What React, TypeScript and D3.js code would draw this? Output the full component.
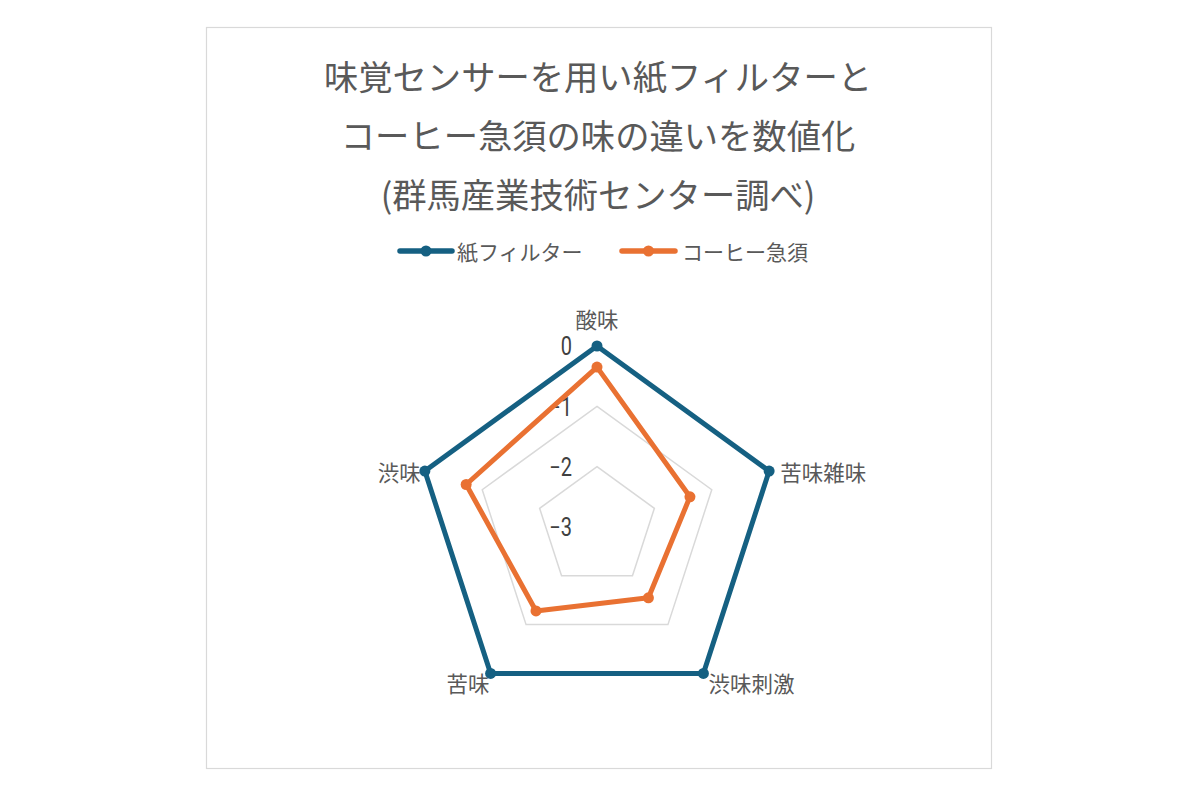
import React from "react";
import * as d3 from "d3";

const titleLines = ["味覚センサーを用い紙フィルターと", "コーヒー急須の味の違いを数値化", "(群馬産業技術センター調べ)"];
const categories = ["酸味", "苦味雑味", "渋味刺激", "苦味", "渋味"];
const seriesNames = ["紙フィルター", "コーヒー急須"];
const paperFilter = [0, 0, 0, 0, 0];
const coffeePot = [-0.35, -1.38, -1.55, -1.28, -0.72];
const tickValues = [-3, -2, -1, 0];
const colors = ["#156082", "#E97132"];

const W = 1200;
const H = 800;
const cx = 597;
const cy = 527;
const R = 181;

export default function App() {
  const r = d3.scaleLinear().domain([-3, 0]).range([0, R]);
  const angle = d3
    .scaleLinear()
    .domain([0, categories.length])
    .range([0, 2 * Math.PI]);
  const series = [paperFilter, coffeePot];

  const radial = d3
    .lineRadial<number>()
    .angle((_, i) => angle(i))
    .radius((v) => r(v))
    .curve(d3.curveLinearClosed);

  const gridLevels = tickValues.filter((t) => t > -3);
  const pt = (i: number, v: number) => {
    const a = angle(i);
    return [Math.sin(a) * r(v), -Math.cos(a) * r(v)];
  };

  const fmt = d3.format("d");
  const cjk = "'Noto Sans CJK JP', 'Noto Sans', sans-serif";
  const textColor = "#595959";

  const labelPos = (i: number) => {
    const a = angle(i);
    const [x, y] = pt(i, 0);
    const s = Math.sin(a);
    let anchor = "middle";
    let dx = 0;
    let dy = 0;
    if (s > 0.5) {
      anchor = "start";
      dx = 11;
    } else if (s < -0.5) {
      anchor = "end";
      dx = -4;
    }
    if (Math.abs(s) < 0.1) dy = -28;
    if (Math.cos(a) < -0.5) {
      dy = 9;
      if (s > 0) dx = 5;
      else dx = -1;
    }
    return { x: x + dx, y: y + dy, anchor };
  };

  const legendItems = [
    { x0: 400, x1: 452, tx: 457 },
    { x0: 622, x1: 675, tx: 682 },
  ];

  return (
    <div style={{ position: "fixed", left: 0, top: 0 }}>
      <svg width={W} height={H} style={{ display: "block", background: "#fff" }}>
        <rect x={206.5} y={27.5} width={785} height={741} fill="#fff" stroke="#d9d9d9" strokeWidth={1.2} />
        {titleLines.map((t, i) => (
          <text
            key={i}
            x={598}
            y={75 + i * 59}
            textAnchor="middle"
            dominantBaseline="central"
            fontFamily={cjk}
            fontSize={34.3}
            fill={textColor}
          >
            {t}
          </text>
        ))}
        {seriesNames.map((n, i) => (
          <g key={n}>
            <line
              x1={legendItems[i].x0}
              x2={legendItems[i].x1}
              y1={251}
              y2={251}
              stroke={colors[i]}
              strokeWidth={5.5}
              strokeLinecap="round"
            />
            <circle cx={(legendItems[i].x0 + legendItems[i].x1) / 2} cy={251} r={5.5} fill={colors[i]} />
            <text
              x={legendItems[i].tx}
              y={251}
              dominantBaseline="central"
              fontFamily={cjk}
              fontSize={21}
              fill={textColor}
            >
              {n}
            </text>
          </g>
        ))}
        <g transform={`translate(${cx},${cy})`}>
          {gridLevels.map((lv) => (
            <path
              key={lv}
              d={radial(categories.map(() => lv)) || ""}
              fill="none"
              stroke="#d9d9d9"
              strokeWidth={1.5}
            />
          ))}
          {tickValues.map((t) => (
            <text
              key={t}
              transform={`translate(${-25},${-r(t) + 1}) scale(0.8,1)`}
              textAnchor="end"
              dominantBaseline="central"
              fontFamily="Roboto, 'Noto Sans', sans-serif"
              fontSize={25}
              fill="#404040"
            >
              {fmt(t)}
            </text>
          ))}
          {series.map((vals, si) => (
            <g key={si}>
              <path
                d={radial(vals) || ""}
                fill="none"
                stroke={colors[si]}
                strokeWidth={5}
                strokeLinejoin="round"
              />
              {vals.map((v, i) => {
                const [x, y] = pt(i, v);
                return <circle key={i} cx={x} cy={y} r={5.5} fill={colors[si]} />;
              })}
            </g>
          ))}
          {categories.map((c, i) => {
            const p = labelPos(i);
            return (
              <text
                key={c}
                x={p.x}
                y={p.y}
                textAnchor={p.anchor}
                dominantBaseline="central"
                fontFamily={cjk}
                fontSize={21.5}
                fill={textColor}
              >
                {c}
              </text>
            );
          })}
        </g>
      </svg>
    </div>
  );
}
